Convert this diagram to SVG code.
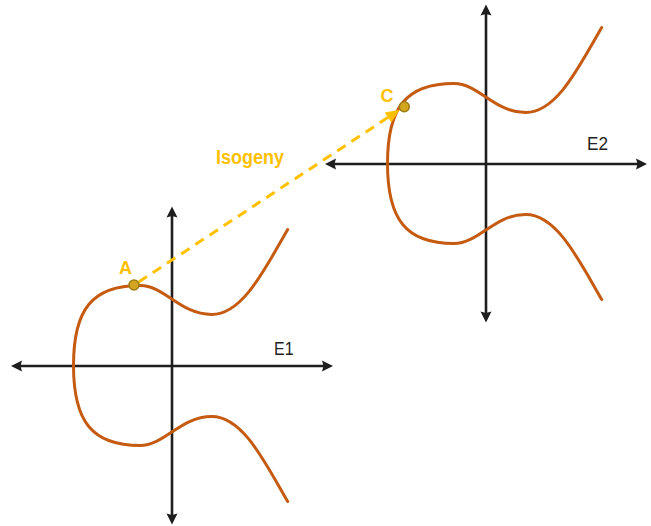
<svg xmlns="http://www.w3.org/2000/svg" xmlns:xlink="http://www.w3.org/1999/xlink" width="651" height="526" viewBox="0 0 651 526">
<style>
.axis{stroke:#1e1e1e;stroke-width:2.6;fill:none;marker-start:url(#ah);marker-end:url(#ah)}
.curve{stroke:#C55A11;stroke-width:3;fill:none;stroke-linecap:round}
.pt{fill:#D4A520;stroke:#9A7D12;stroke-width:1.5}
.lbl{font-family:"Liberation Sans",Arial,sans-serif;font-size:18px;fill:#222}
.ylbl{font-family:"Liberation Sans",Arial,sans-serif;font-weight:bold;fill:#FFC000}
.iso{stroke:#FFC000;stroke-width:3;fill:none;stroke-dasharray:10 7;marker-end:url(#yh)}
</style>
<defs>
<marker id="ah" markerUnits="userSpaceOnUse" viewBox="-4 -7 14 14" refX="0" refY="0" markerWidth="14" markerHeight="14" orient="auto-start-reverse">
<path d="M8,0 L-3,-5.5 L-1.5,0 L-3,5.5 Z" fill="#1e1e1e"/>
</marker>
<marker id="yh" markerUnits="userSpaceOnUse" viewBox="-10 -8 18 16" refX="0" refY="0" markerWidth="18" markerHeight="16" orient="auto">
<path d="M6,0 L-8,-6 L-8,6 Z" fill="#FFC000"/>
</marker>
<path id="curve" d="M115.7,-136 C93,-97 71,-51 39.7,-51 C8,-51 -7,-80 -32,-80 C-80,-80 -98.5,-56 -98.5,0 C-98.5,56 -80,80 -32,80 C-7,80 8,51 39.7,51 C71,51 93,97 115.7,136"/>
</defs>
<g id="E1">
<line class="axis" x1="19" y1="366" x2="325" y2="366"/>
<line class="axis" x1="172" y1="516.5" x2="172" y2="214.5"/>
<use xlink:href="#curve" href="#curve" class="curve" transform="translate(172,365.5)"/>
<text class="lbl" x="274" y="355" textLength="19.5" lengthAdjust="spacingAndGlyphs">E1</text>
</g>
<g id="E2">
<line class="axis" x1="333" y1="164" x2="639" y2="164"/>
<line class="axis" x1="486" y1="314.5" x2="486" y2="12.5"/>
<use xlink:href="#curve" href="#curve" class="curve" transform="translate(486,163.5)"/>
<text class="lbl" x="587" y="149.5" textLength="21" lengthAdjust="spacingAndGlyphs">E2</text>
</g>
<g id="connectors">
<line class="iso" x1="138.6" y1="282" x2="394.7" y2="113"/>
<text class="ylbl" x="216" y="164" font-size="20" textLength="68" lengthAdjust="spacingAndGlyphs">Isogeny</text>
</g>
<g id="A">
<circle class="pt" cx="134" cy="285" r="5"/>
<text class="ylbl" x="125.5" y="273.5" font-size="18" text-anchor="middle">A</text>
</g>
<g id="C">
<circle class="pt" cx="404.3" cy="106.7" r="5"/>
<text class="ylbl" x="387" y="102" font-size="18" text-anchor="middle">C</text>
</g>
</svg>
